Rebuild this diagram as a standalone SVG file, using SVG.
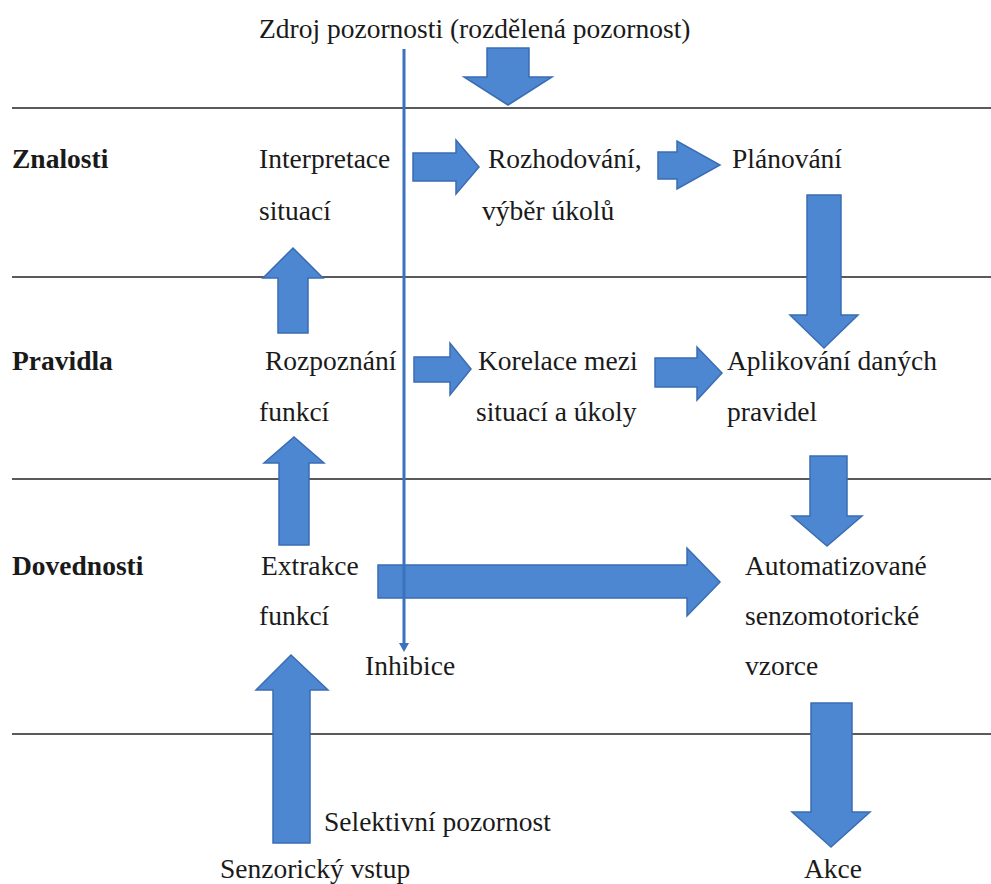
<svg xmlns="http://www.w3.org/2000/svg" width="991" height="884" viewBox="0 0 991 884">
  <style>
    text { font-family: 'Liberation Serif', 'Times New Roman', serif; font-size: 27.5px; fill: #1a1a1a; }
    .b { font-weight: bold; }
    .sep { stroke: #5a5a5a; stroke-width: 1.8; }
    .arr { fill: #4d87d1; stroke: #3a6db3; stroke-width: 1.5; stroke-linejoin: miter; }
    .inh { stroke: #3a72c0; stroke-width: 3; fill: none; }
  </style>
  <rect width="991" height="884" fill="#ffffff"/>
  <g id="separators">
    <line class="sep" x1="12" y1="108" x2="991" y2="108"/>
    <line class="sep" x1="12" y1="277" x2="991" y2="277"/>
    <line class="sep" x1="12" y1="479" x2="991" y2="479"/>
    <line class="sep" x1="12" y1="734" x2="991" y2="734"/>
  </g>
  <g id="connectors">
    <polygon class="arr" points="487,48 529,48 529,77 552,77 508,105 464,77 487,77"/>
    <polygon class="arr" points="413,153 456,153 456,140 479,167 456,194 456,181 413,181"/>
    <polygon class="arr" points="658,152 677,152 677,141 720,165 677,189 677,179 658,179"/>
    <polygon class="arr" points="807,195 841,195 841,315 858,315 824,348 790,315 807,315"/>
    <polygon class="arr" points="278,333 278,278 263,278 293,248 323,278 308,278 308,333"/>
    <polygon class="arr" points="279,545 279,463 264,463 294,437 324,463 309,463 309,545"/>
    <polygon class="arr" points="414,357 450,357 450,343 471,369 450,395 450,382 414,382"/>
    <polygon class="arr" points="655,358 697,358 697,347 722,373 697,400 697,387 655,387"/>
    <polygon class="arr" points="810,456 847,456 847,516 862,516 827,546 792,516 810,516"/>
    <polygon class="arr" points="378,565 687,565 687,548 720,582 687,616 687,598 378,598"/>
    <polygon class="arr" points="273,843 273,690 256,690 291,655 328,690 310,690 310,843"/>
    <polygon class="arr" points="811,703 852,703 852,812 870,812 831,847 792,812 811,812"/>
    <line class="inh" x1="404" y1="49" x2="404" y2="644"/>
    <polygon points="399,643 409,643 404,652" fill="#3a72c0"/>
  </g>
  <g id="n-zdroj"><text x="259" y="38">Zdroj pozornosti (rozdělená pozornost)</text></g>
  <g id="n-znalosti"><text class="b" x="12" y="168">Znalosti</text></g>
  <g id="n-pravidla"><text class="b" x="12" y="370">Pravidla</text></g>
  <g id="n-dovednosti"><text class="b" x="12" y="575">Dovednosti</text></g>
  <g id="n-interpretace"><text x="259" y="168">Interpretace</text><text x="259" y="220">situací</text></g>
  <g id="n-rozhodovani"><text x="488" y="168">Rozhodování,</text><text x="482" y="220">výběr úkolů</text></g>
  <g id="n-planovani"><text x="732" y="168">Plánování</text></g>
  <g id="n-rozpoznani"><text x="265" y="370">Rozpoznání</text><text x="259" y="421">funkcí</text></g>
  <g id="n-korelace"><text x="478" y="370">Korelace mezi</text><text x="476" y="421">situací a úkoly</text></g>
  <g id="n-aplikovani"><text x="727" y="370">Aplikování daných</text><text x="727" y="421">pravidel</text></g>
  <g id="n-extrakce"><text x="261" y="575">Extrakce</text><text x="259" y="625">funkcí</text></g>
  <g id="n-automatizovane"><text x="745" y="575">Automatizované</text><text x="745" y="625">senzomotorické</text><text x="745" y="675">vzorce</text></g>
  <g id="n-inhibice"><text x="365" y="675">Inhibice</text></g>
  <g id="n-selektivni"><text x="324" y="831">Selektivní pozornost</text></g>
  <g id="n-senzoricky"><text x="220" y="878">Senzorický vstup</text></g>
  <g id="n-akce"><text x="804" y="878">Akce</text></g>
</svg>
